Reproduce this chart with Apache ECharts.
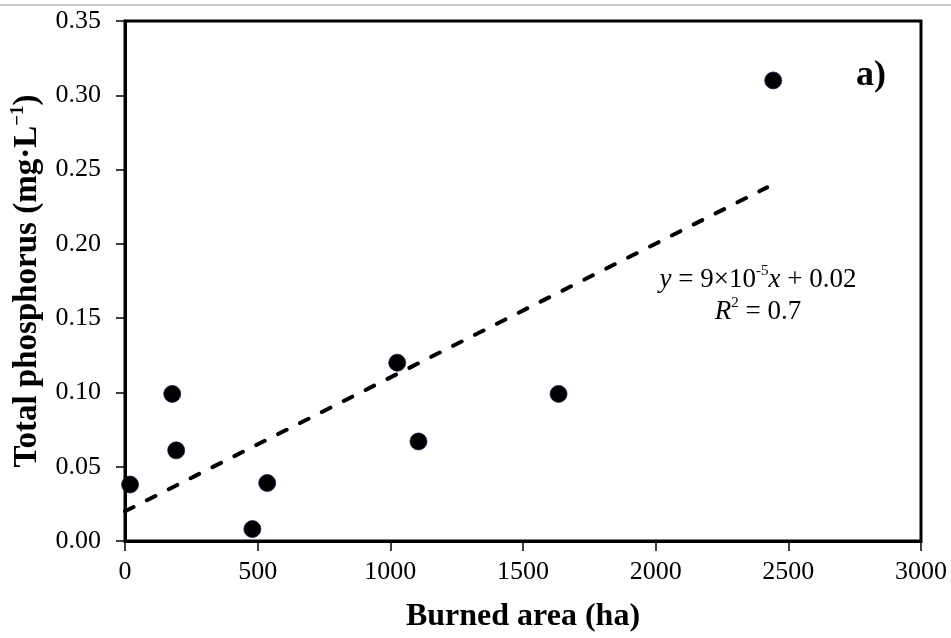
<!DOCTYPE html>
<html>
<head>
<meta charset="utf-8">
<script src="https://cdn.jsdelivr.net/npm/echarts@6/dist/echarts.min.js"></script>
<style>
html,body{margin:0;padding:0;background:#fff;}
#main{width:951px;height:638px;}
</style>
</head>
<body>
<div id="main"></div>
<script>
// Data
var burnedArea = [19, 178, 193, 480, 536, 1026, 1106, 1634, 2443];
var totalPhosphorus = [0.038, 0.099, 0.061, 0.008, 0.039, 0.120, 0.067, 0.099, 0.310];
var trendX = [0, 2420];
var trendY = [0.020, 0.238];
var xTicks = [0, 500, 1000, 1500, 2000, 2500, 3000];
var yTicks = [0.00, 0.05, 0.10, 0.15, 0.20, 0.25, 0.30, 0.35];

var points = burnedArea.map(function (x, i) { return [x, totalPhosphorus[i]]; });
var trend = trendX.map(function (x, i) { return [x, trendY[i]]; });

var serif = "'Liberation Serif', 'Times New Roman', serif";
var chart = echarts.init(document.getElementById('main'), null, {renderer: 'canvas'});

chart.setOption({
  backgroundColor: '#ffffff',
  animation: false,
  grid: {
    left: 125, right: 30, top: 21, bottom: 97,
    show: true, borderColor: '#000', borderWidth: 3, backgroundColor: 'transparent'
  },
  xAxis: {
    type: 'value',
    min: xTicks[0], max: xTicks[xTicks.length - 1], interval: 500,
    axisLine: {show: true, lineStyle: {color: '#000', width: 3}},
    axisTick: {show: true, inside: false, length: 10, lineStyle: {color: '#000', width: 1.5}},
    axisLabel: {color: '#000', fontFamily: serif, fontSize: 26, margin: 18,
      formatter: function (v) { return String(v); }},
    splitLine: {show: false},
    name: 'Burned area (ha)',
    nameLocation: 'middle',
    nameGap: 60,
    nameTextStyle: {color: '#000', fontFamily: serif, fontSize: 32, fontWeight: 'bold', verticalAlign: 'top'}
  },
  yAxis: {
    type: 'value',
    min: yTicks[0], max: yTicks[yTicks.length - 1], interval: 0.05,
    axisLine: {show: true, lineStyle: {color: '#000', width: 3}},
    axisTick: {show: true, inside: false, length: 9, lineStyle: {color: '#000', width: 1.5}},
    axisLabel: {color: '#000', fontFamily: serif, fontSize: 26, margin: 24,
      formatter: function (v) { return v.toFixed(2); }},
    splitLine: {show: false},
    name: '{m|Total phosphorus (mg·L}{s|−1}{m|)}',
    nameLocation: 'middle',
    nameRotate: 90,
    nameGap: 80,
    nameTextStyle: {
      color: '#000', fontFamily: serif, fontSize: 33, fontWeight: 'bold',
      rich: {
        m: {fontFamily: serif, fontSize: 33, fontWeight: 'bold', color: '#000', lineHeight: 36},
        s: {fontFamily: serif, fontSize: 19, fontWeight: 'bold', color: '#000', verticalAlign: 'top', lineHeight: 19}
      }
    }
  },
  series: [
    {
      type: 'line',
      data: trend,
      symbol: 'none',
      silent: true,
      lineStyle: {color: '#000', width: 4, type: [9.5, 15], cap: 'round'},
      z: 2
    },
    {
      type: 'scatter',
      data: points,
      symbol: 'circle',
      symbolSize: 17,
      itemStyle: {color: '#000', borderColor: '#1a1a4a', borderWidth: 0.8, opacity: 1},
      z: 3
    }
  ],
  graphic: [
    {
      type: 'line', silent: true,
      shape: {x1: 0, y1: 5, x2: 951, y2: 5},
      style: {stroke: '#b8b8b8', lineWidth: 1.5}
    },
    {
      type: 'text', silent: true,
      left: 856, top: 58,
      style: {text: 'a)', font: 'bold 36px ' + serif, fill: '#000'}
    },
    {
      type: 'text', silent: true,
      x: 758, y: 264,
      style: {
        text: '{i|y} {n|= 9×10}{s|-5}{i|x} {n|+ 0.02}\n{i|R}{s|2}{n| = 0.7}',
        font: '27px ' + serif,
        fill: '#000',
        align: 'center',
        verticalAlign: 'top',
        rich: {
          n: {fontFamily: serif, fontSize: 27, color: '#000', lineHeight: 32},
          i: {fontFamily: serif, fontSize: 27, fontStyle: 'italic', color: '#000', lineHeight: 32},
          s: {fontFamily: serif, fontSize: 15, color: '#000', verticalAlign: 'top', lineHeight: 17}
        }
      }
    }
  ]
});
</script>
</body>
</html>
